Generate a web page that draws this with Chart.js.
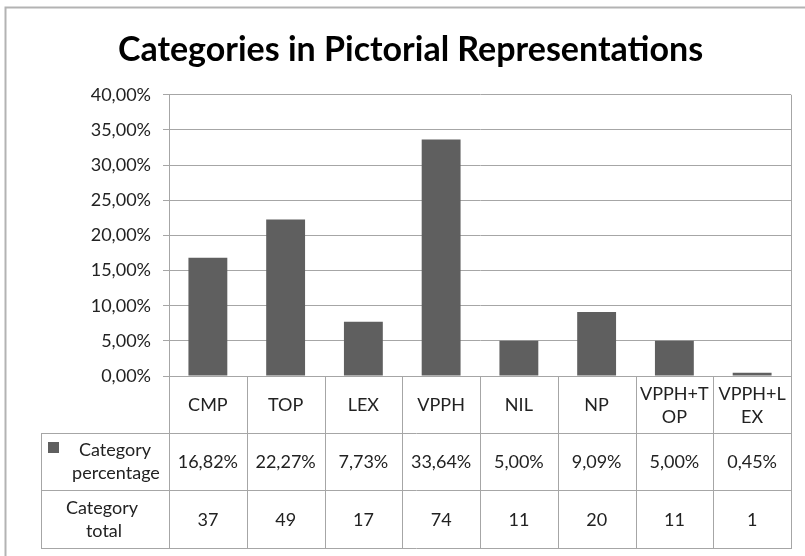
<!DOCTYPE html>
<html>
<head>
<meta charset="utf-8">
<script src="https://cdn.jsdelivr.net/npm/chart.js@4/dist/chart.umd.min.js"></script>
<style>
  body { margin: 0; background: #fff; }
  #wrap { width: 805px; height: 556px; }
</style>
</head>
<body>
<div id="wrap"><canvas id="catChart" width="805" height="556"></canvas></div>
<script>
const categories = ["CMP", "TOP", "LEX", "VPPH", "NIL", "NP", "VPPH+TOP", "VPPH+LEX"];
// how the category names wrap in the table header
const categoryLines = [["CMP"], ["TOP"], ["LEX"], ["VPPH"], ["NIL"], ["NP"], ["VPPH+T", "OP"], ["VPPH+L", "EX"]];
const percentages = [16.82, 22.27, 7.73, 33.64, 5.00, 9.09, 5.00, 0.45];
const totals = [37, 49, 17, 74, 11, 20, 11, 1];

const BAR_COLOR = "#5f5f5f";
const LINE_COLOR = "#a6a6a6";
const TEXT_COLOR = "#222";
const FONT = '"Lato", sans-serif';

function fmtPct(v) {
  return v.toFixed(2).replace(".", ",") + "%";
}

// draws the outer frame and the data table below the plot
const dataTablePlugin = {
  id: "dataTable",
  afterDraw(chart) {
    const ctx = chart.ctx;
    const area = chart.chartArea;
    const xScale = chart.scales.x;
    const colW = (area.right - area.left) / categories.length;
    const rowTop = area.bottom;
    const row1 = rowTop + 57;
    const row2 = row1 + 57;
    const row3 = row2 + 58;
    const tableLeft = 41;

    ctx.save();
    // outer chart border
    ctx.strokeStyle = "#b3b3b3";
    ctx.lineWidth = 2;
    ctx.beginPath();
    ctx.moveTo(5.5, 560);
    ctx.lineTo(5.5, 7.5);
    ctx.lineTo(810, 7.5);
    ctx.stroke();

    ctx.strokeStyle = LINE_COLOR;
    ctx.lineWidth = 1;
    ctx.beginPath();
    // plot right edge down through the table
    ctx.moveTo(Math.round(area.right) + 0.5, area.top);
    ctx.lineTo(Math.round(area.right) + 0.5, row3);
    // column separators
    for (let i = 0; i < categories.length; i++) {
      const x = Math.round(area.left + i * colW) + 0.5;
      ctx.moveTo(x, rowTop);
      ctx.lineTo(x, row3);
    }
    // row lines
    [row1, row2, row3].forEach(y => {
      ctx.moveTo(tableLeft, Math.round(y) + 0.5);
      ctx.lineTo(Math.round(area.right) + 1, Math.round(y) + 0.5);
    });
    ctx.moveTo(tableLeft + 0.5, row1);
    ctx.lineTo(tableLeft + 0.5, row3);
    ctx.stroke();

    ctx.fillStyle = TEXT_COLOR;
    ctx.font = "18px " + FONT;
    ctx.textAlign = "center";
    ctx.textBaseline = "middle";
    categories.forEach((c, i) => {
      const cx = xScale.getPixelForTick(i);
      const lines = categoryLines[i];
      const mid = (rowTop + row1) / 2 + 1;
      lines.forEach((ln, j) => {
        ctx.fillText(ln, cx, mid + (j - (lines.length - 1) / 2) * 23);
      });
      ctx.fillText(fmtPct(percentages[i]), cx, (row1 + row2) / 2 + 1);
      ctx.fillText(String(totals[i]), cx, (row2 + row3) / 2 + 1);
    });

    // row headers
    ctx.fillStyle = BAR_COLOR;
    ctx.fillRect(48, 442, 11, 11);
    ctx.fillStyle = TEXT_COLOR;
    ctx.fillText("Category", 115, (row1 + row2) / 2 - 11);
    ctx.fillText("percentage", 116, (row1 + row2) / 2 + 12);
    ctx.fillText("Category", 102, (row2 + row3) / 2 - 11);
    ctx.fillText("total", 104, (row2 + row3) / 2 + 12);
    ctx.restore();
  }
};

new Chart(document.getElementById("catChart"), {
  type: "bar",
  data: {
    labels: categories,
    datasets: [
      {
        label: "Category percentage",
        data: percentages,
        backgroundColor: BAR_COLOR,
        categoryPercentage: 1.0,
        barPercentage: 0.5
      }
    ]
  },
  options: {
    responsive: false,
    animation: false,
    layout: { padding: { left: 30, right: 14, top: 0, bottom: 0 } },
    plugins: {
      legend: { display: false },
      tooltip: { enabled: false },
      title: {
        display: true,
        text: "Categories in Pictorial Representations",
        color: "#000",
        font: { family: FONT, size: 34, weight: "bold" },
        padding: { top: 30, bottom: 24 }
      }
    },
    scales: {
      x: {
        ticks: { display: false },
        grid: { display: false },
        border: { display: false },
        afterFit(scale) { scale.height = 180; }
      },
      y: {
        min: 0,
        max: 40,
        ticks: {
          stepSize: 5,
          color: TEXT_COLOR,
          font: { family: FONT, size: 18 },
          padding: 12,
          callback: v => fmtPct(v)
        },
        grid: { color: LINE_COLOR, tickLength: 6 },
        border: { color: LINE_COLOR },
        afterFit(scale) { scale.width = 139; }
      }
    }
  },
  plugins: [dataTablePlugin]
});
</script>
</body>
</html>
